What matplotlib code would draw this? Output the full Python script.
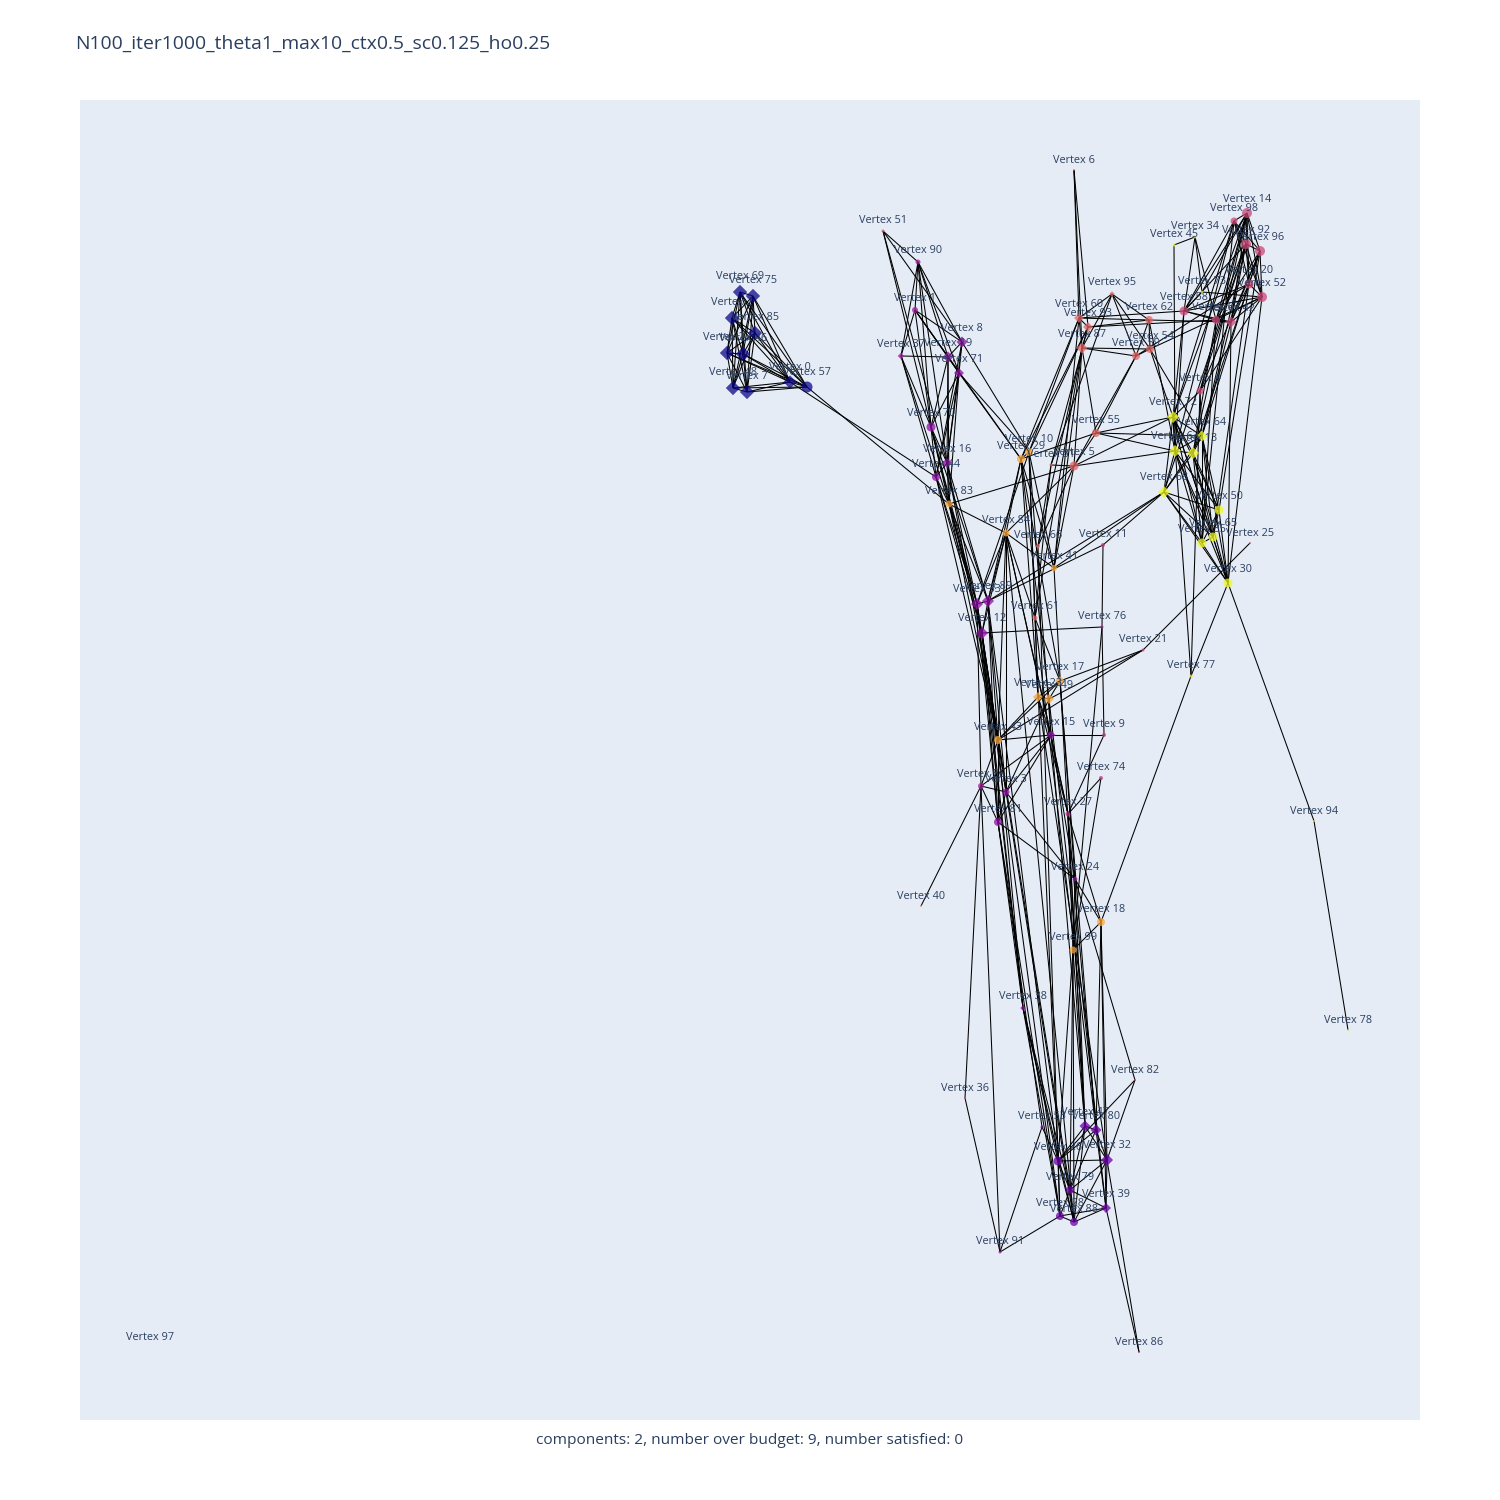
import matplotlib
matplotlib.use("Agg")
import matplotlib.pyplot as plt
import numpy as np
from matplotlib.collections import LineCollection

plt.rcParams['font.family'] = ['Open Sans', 'DejaVu Sans']

title = "N100_iter1000_theta1_max10_ctx0.5_sc0.125_ho0.25"
footer = "components: 2, number over budget: 9, number satisfied: 0"

# node layout (vertex id = index)
node_x = [790, 915, 732, 1006, 1200, 1074, 1074, 747, 962, 1104,
          1029, 1103, 982, 1193, 1247, 1051, 947, 1060, 1101, 948,
          1249, 1143, 727, 1038, 1075, 1250, 1058, 1068, 1060, 1021,
          1228, 1051, 1107, 977, 1195, 1202, 965, 901, 1023, 1106,
          921, 1054, 1231, 998, 936, 1174, 743, 1085, 733, 1049,
          1219, 883, 1262, 1042, 1150, 1096, 981, 807, 1184, 1136,
          1079, 1035, 1149, 1175, 1202, 1213, 1038, 1216, 1164, 740,
          931, 959, 1173, 1202, 1101, 753, 1102, 1191, 1348, 1070,
          1096, 998, 1135, 949, 1006, 755, 1139, 1082, 1074, 988,
          918, 1000, 1246, 1088, 1314, 1112, 1260, 150, 1234, 1073]
node_y = [382, 310, 318, 792, 391, 466, 170, 392, 342, 735,
          452, 545, 633, 453, 213, 735, 463, 681, 922, 357,
          284, 650, 353, 697, 879, 543, 1161, 814, 1216, 459,
          583, 465, 1160, 604, 237, 543, 1098, 356, 1008, 1208,
          906, 568, 322, 740, 477, 245, 354, 1126, 388, 699,
          510, 231, 297, 1127, 349, 433, 786, 387, 311, 356,
          318, 618, 320, 451, 436, 537, 546, 320, 492, 292,
          427, 373, 417, 292, 778, 296, 627, 676, 1030, 1190,
          1130, 822, 1080, 504, 533, 333, 1352, 348, 1222, 601,
          262, 1252, 244, 327, 821, 294, 251, 1346, 221, 950]
node_size = [12, 6, 13, 7, 7, 9, 2, 13, 10, 4,
             8, 4, 11, 11, 10, 8, 9, 9, 8, 10,
             9, 3, 13, 9, 5, 2, 9, 5, 8, 8,
             9, 3, 11, 11, 3, 9, 2, 6, 5, 9,
             2, 6, 10, 8, 8, 3, 13, 10, 13, 9,
             9, 3, 10, 3, 8, 8, 6, 11, 9, 8,
             9, 5, 8, 11, 10, 9, 4, 8, 11, 13,
             9, 9, 11, 3, 4, 13, 3, 3, 2, 8,
             10, 8, 2, 7, 7, 13, 2, 10, 8, 11,
             5, 3, 10, 9, 2, 5, 10, 0, 7, 7]
node_symbol = ("DoDooooDDo" "ooDDoDDDoD" "ooDDDooooo" "ooDDoooDDD"
               "ooDoooDDDD" "oooooooooo" "DooDDoooDD" "oDDooDoooo"
               "DooooDoDoD" "oooDoDoooo")
node_color = [0.0, 0.35, 0.0, 0.3, 0.5, 0.6, 0.6, 0.0, 0.3, 0.45,
              0.8, 0.45, 0.3, 1.0, 0.5, 0.3, 0.3, 0.8, 0.8, 0.3,
              0.5, 0.5, 0.0, 0.8, 0.3, 0.55, 0.2, 0.4, 0.2, 0.8,
              1.0, 0.6, 0.2, 0.3, 1.0, 1.0, 0.5, 0.35, 0.3, 0.2,
              0.7, 0.8, 0.5, 0.8, 0.3, 1.0, 0.0, 0.2, 0.0, 0.8,
              1.0, 0.55, 0.5, 0.25, 0.6, 0.6, 0.35, 0.0, 0.5, 0.6,
              0.6, 0.6, 0.6, 1.0, 1.0, 1.0, 0.6, 0.5, 1.0, 0.0,
              0.3, 0.3, 1.0, 1.0, 0.45, 0.0, 0.35, 0.95, 0.9, 0.2,
              0.2, 0.3, 0.5, 0.8, 0.8, 0.0, 0.4, 0.6, 0.2, 0.3,
              0.35, 0.35, 0.5, 0.6, 0.9, 0.6, 0.5, 0.5, 0.5, 0.8]

cluster_tl = [69, 75, 2, 85, 22, 46, 48, 7, 0, 57]
cluster_pink = [14, 98, 92, 96, 20, 52]
cluster_yellow = [72, 64, 63, 13, 68, 50, 65, 35, 30]
edges = [(57, 83), (0, 44),
         (51, 90), (51, 70), (51, 16), (51, 8),
         (90, 1), (90, 37), (90, 8), (90, 19), (90, 71), (90, 70), (90, 16),
         (1, 37), (1, 8), (1, 19), (1, 70), (1, 29), (1, 71),
         (37, 19), (37, 70), (37, 44), (37, 83),
         (8, 19), (8, 71), (8, 16), (8, 10), (8, 44),
         (19, 71), (19, 70), (19, 16), (19, 83),
         (71, 70), (71, 16), (71, 44), (71, 83), (71, 29), (71, 10),
         (70, 16), (70, 44), (70, 83), (70, 89), (70, 33), (70, 12),
         (16, 44), (16, 83), (16, 89), (16, 33),
         (44, 83), (44, 12), (44, 33),
         (83, 5), (83, 84), (83, 33), (83, 89), (83, 12), (83, 43),
         (33, 12), (89, 12), (33, 89), (33, 43), (12, 43), (89, 43), (12, 81),
         (33, 56), (89, 3), (12, 3), (33, 81), (89, 81), (12, 38), (33, 38),
         (44, 43), (16, 43),
         (43, 56), (43, 3), (43, 81), (43, 15), (43, 17), (43, 21), (43, 38),
         (3, 56), (3, 81), (3, 15), (3, 24),
         (56, 81), (56, 40), (56, 36), (56, 91),
         (81, 24), (81, 15), (81, 53), (81, 28), (81, 38),
         (38, 28), (38, 88), (38, 26), (38, 79),
         (84, 41), (84, 89), (84, 33), (84, 12), (84, 61), (84, 15), (84, 27),
         (84, 43), (84, 3),
         (6, 60), (6, 87), (6, 93),
         (58, 14), (58, 98), (58, 92), (58, 20), (58, 52), (58, 67), (58, 42),
         (67, 14), (67, 92), (67, 96), (67, 52), (67, 42),
         (42, 14), (42, 92), (42, 96), (42, 20), (42, 52),
         (34, 45), (34, 58), (34, 73), (34, 67), (45, 63),
         (73, 58), (73, 52), (73, 14),
         (14, 72), (98, 72), (92, 64), (96, 13), (20, 64), (52, 4), (98, 63),
         (14, 13), (92, 68), (96, 50), (20, 65), (52, 30), (67, 35), (42, 64),
         (58, 63), (58, 72), (67, 13), (4, 14), (4, 92), (4, 96), (42, 30),
         (98, 35),
         (60, 93), (60, 87), (93, 87), (60, 62), (93, 62), (60, 58), (93, 67),
         (87, 59), (87, 54), (62, 54), (62, 59), (54, 59), (95, 62), (95, 54),
         (95, 59), (95, 87), (95, 31), (62, 42), (54, 52), (59, 20), (60, 95),
         (60, 29), (60, 10), (93, 10), (87, 5), (87, 55), (87, 61), (87, 66),
         (93, 29), (60, 41), (93, 31), (87, 41), (59, 5), (54, 72), (62, 63),
         (59, 55), (54, 64),
         (55, 72), (55, 63), (55, 64), (55, 5), (55, 29),
         (5, 31), (5, 72), (5, 63), (5, 84), (5, 41), (5, 66), (31, 61), (31, 66),
         (29, 10), (29, 84), (29, 41), (29, 17), (29, 23), (29, 49),
         (10, 61), (10, 41), (10, 23), (10, 15), (29, 89), (10, 33),
         (4, 72), (4, 64), (4, 77), (72, 77), (30, 94), (94, 78), (30, 77),
         (68, 41), (68, 11), (68, 89),
         (25, 21), (21, 17), (21, 49), (11, 76), (76, 9), (11, 89),
         (76, 12), (76, 99), (9, 15), (9, 27), (74, 27), (74, 99), (77, 18),
         (17, 49), (17, 23), (17, 61), (23, 49), (23, 15), (49, 15), (23, 43),
         (49, 3), (17, 24), (23, 27),
         (15, 56), (15, 24), (15, 27),
         (27, 99), (27, 18), (27, 47), (27, 80), (24, 18), (24, 99), (24, 82),
         (24, 47), (18, 99), (18, 32), (18, 39), (18, 80),
         (99, 47), (99, 79), (99, 88), (99, 26),
         (82, 26), (82, 32), (86, 39), (86, 32),
         (91, 53), (91, 28), (36, 91),
         (47, 80), (47, 26), (47, 32), (47, 79), (47, 88), (80, 26), (80, 32),
         (80, 39), (80, 79), (26, 32), (26, 79), (26, 28), (26, 88), (26, 53),
         (32, 79), (32, 39), (32, 88), (79, 39), (79, 28), (79, 88), (39, 88),
         (39, 28), (28, 88),
         (41, 47), (61, 26), (66, 28), (84, 88), (12, 28), (89, 26), (33, 79),
         (3, 88), (61, 80), (15, 47), (23, 32), (49, 39), (17, 80)]
for grp in (cluster_tl, cluster_pink, cluster_yellow):
    for a in range(len(grp)):
        for b in range(a + 1, len(grp)):
            edges.append((grp[a], grp[b]))

fig = plt.figure(figsize=(15, 15), dpi=100)
ax = fig.add_axes([80 / 1500, 80 / 1500, 1340 / 1500, 1320 / 1500])
ax.set_facecolor('#E5ECF6')
for s in ax.spines.values():
    s.set_visible(False)
ax.set_xticks([])
ax.set_yticks([])
ax.set_xlim(80, 1420)
ax.set_ylim(1420, 100)

xs = np.array(node_x, dtype=float)
ys = np.array(node_y, dtype=float)
segs = [[(xs[a], ys[a]), (xs[b], ys[b])] for a, b in edges]
ax.add_collection(LineCollection(segs, colors='black', linewidths=0.75, zorder=1))

cmap = plt.get_cmap('plasma')
sizes_pt = np.array(node_size) * 0.72
for sym, scale in (('o', 1.0), ('D', 0.78)):
    idx = [i for i in range(len(node_x)) if node_symbol[i] == sym]
    ax.scatter(xs[idx], ys[idx], s=(sizes_pt[idx] * scale) ** 2,
               c=[cmap(node_color[i]) for i in idx], marker=sym,
               alpha=0.75, linewidths=0, zorder=2)

for i in range(len(node_x)):
    ax.annotate("Vertex %d" % i, (xs[i], ys[i]),
                xytext=(0, sizes_pt[i] / 2 + 2.5), textcoords='offset points',
                ha='center', va='bottom', fontsize=7.8, color='#2a3f5f', zorder=3)

fig.text(75 / 1500, 1 - 44 / 1500, title, ha='left', va='center',
         fontsize=13.9, color='#2a3f5f')
fig.text(0.5, 1 - 1440 / 1500, footer, ha='center', va='center',
         fontsize=11.1, color='#2a3f5f')

fig.savefig('out.png', dpi=100)
